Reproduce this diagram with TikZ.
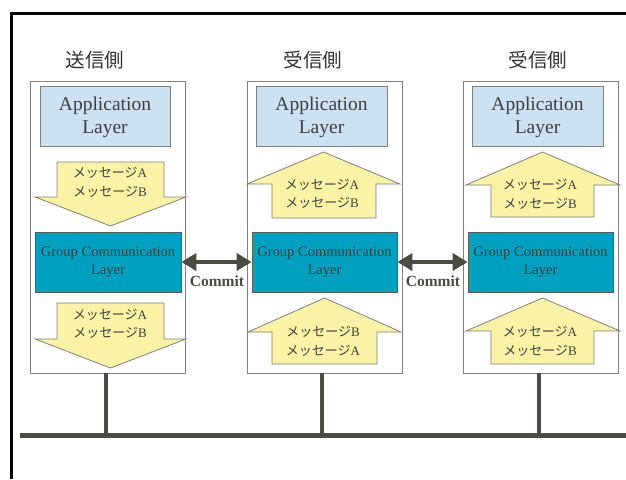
\documentclass[tikz,border=0pt]{standalone}
\usepackage{fontspec}
\setmainfont{Liberation Serif}
\newfontfamily\jp{Noto Sans CJK JP}
\usetikzlibrary{arrows.meta}
\definecolor{txt}{HTML}{404040}
\definecolor{edge}{HTML}{808080}
\definecolor{appfill}{HTML}{CCE1F2}
\definecolor{gclfill}{HTML}{00A0C0}
\definecolor{msgfill}{HTML}{FAF3A6}
\definecolor{bus}{HTML}{4D4A42}
\tikzset{
  outerbox/.style={draw=edge, fill=white, line width=0.8pt},
  appbox/.style={draw=edge, fill=appfill, line width=1pt},
  gclbox/.style={draw=edge!70!black, fill=gclfill, line width=0.8pt},
  msgarrow/.style={draw=edge, fill=msgfill, line width=0.8pt},
  title/.style={font=\jp\fontsize{19.5}{22}\selectfont, text=txt!80!black, inner sep=0pt},
  apptext/.style={font=\fontsize{19.5}{23.5}\selectfont, text=txt, align=center, inner sep=0pt},
  gcltext/.style={font=\fontsize{14.5}{18}\selectfont, text=txt, align=center, inner sep=0pt},
  msgtext/.style={font=\fontsize{13}{18.5}\selectfont, text=txt, align=center, inner sep=0pt},
  committext/.style={font=\bfseries\fontsize{15.5}{18}\selectfont, text=bus, inner sep=0pt},
  commitline/.style={draw=bus, line width=4.5pt, {Triangle[length=15pt,width=17pt]}-{Triangle[length=15pt,width=17pt]}},
  busline/.style={draw=bus, line width=4.5pt},
}
\newcommand{\msg}[1]{{\jp メッセージ}#1}
\begin{document}
\begin{tikzpicture}[x=1pt,y=-1pt]
\useasboundingbox (0,0) rectangle (626,479);
% frame
\draw[line width=3pt, black] (626,13) -- (11.5,13) -- (11.5,479);

% titles
\node[title] (t1) at (95,60) {送信側};
\node[title] (t2) at (313,60) {受信側};
\node[title] (t3) at (538,60) {受信側};

% outer boxes
\draw[outerbox] (30,81) rectangle (185,373);
\draw[outerbox] (247,81) rectangle (402,373);
\draw[outerbox] (463,81) rectangle (618,373);
\coordinate (o1) at (106,373);
\coordinate (o2) at (322,373);
\coordinate (o3) at (539,373);

% application layers
\draw[appbox] (40,86) rectangle (170,146);
\draw[appbox] (256,86) rectangle (387,146);
\draw[appbox] (472,86) rectangle (603,146);
\node[apptext] (a1) at (105,117.5) {Application\\Layer};
\node[apptext] (a2) at (321.5,117.5) {Application\\Layer};
\node[apptext] (a3) at (537.5,117.5) {Application\\Layer};

% GCL boxes
\node[gclbox, minimum width=146pt, minimum height=60pt, inner sep=0pt] (g1) at (108,262) {};
\node[gclbox, minimum width=145pt, minimum height=60pt, inner sep=0pt] (g2) at (324.5,262) {};
\node[gclbox, minimum width=145pt, minimum height=60pt, inner sep=0pt] (g3) at (540.5,262) {};
\node[gcltext] at (108,262) (gt1) {Group Communication\\Layer};
\node[gcltext] at (324.5,262) (gt2) {Group Communication\\Layer};
\node[gcltext] at (540.5,262) (gt3) {Group Communication\\Layer};

% message arrows, column 1 (down)
\draw[msgarrow] (57,162) -- (164,162) -- (164,197) -- (186,197) -- (110.5,226) -- (35,197) -- (57,197) -- cycle;
\draw[msgarrow] (57,303) -- (164,303) -- (164,339) -- (186,339) -- (110.5,368) -- (35,339) -- (57,339) -- cycle;
\node[msgtext] (m1) at (110,182.5) {\msg{A}\\\msg{B}};
\node[msgtext] (m2) at (110,324) {\msg{A}\\\msg{B}};

% column 2 (up)
\draw[msgarrow] (272,218) -- (376,218) -- (376,184) -- (400,184) -- (323.5,152) -- (247,184) -- (272,184) -- cycle;
\draw[msgarrow] (272,364) -- (377,364) -- (377,332) -- (401,332) -- (324.5,298) -- (248,332) -- (272,332) -- cycle;
\node[msgtext] (m3) at (322,194) {\msg{A}\\\msg{B}};
\node[msgtext] (m4) at (323,341.5) {\msg{B}\\\msg{A}};

% column 3 (up)
\draw[msgarrow] (491,217) -- (594,217) -- (594,185) -- (620,185) -- (542.5,152) -- (466,185) -- (491,185) -- cycle;
\draw[msgarrow] (491,364) -- (594,364) -- (594,331) -- (620,331) -- (542.5,298) -- (466,331) -- (491,331) -- cycle;
\node[msgtext] (m5) at (540,194.5) {\msg{A}\\\msg{B}};
\node[msgtext] (m6) at (540,341.5) {\msg{A}\\\msg{B}};

% commit arrows
\draw[commitline] (g1.east) -- (g2.west);
\draw[commitline] (g2.east) -- (g3.west);
\node[committext] (c1) at (217,281) {Commit};
\node[committext] (c2) at (433,281) {Commit};

% network
\coordinate (busL) at (20,435.5);
\coordinate (busR) at (626,435.5);
\coordinate (b1) at (106,435.5);
\coordinate (b2) at (322,435.5);
\coordinate (b3) at (539,435.5);
\draw[busline] (busL) -- (busR);
\draw[busline] (o1) -- (b1);
\draw[busline] (o2) -- (b2);
\draw[busline] (o3) -- (b3);
\end{tikzpicture}
\end{document}
